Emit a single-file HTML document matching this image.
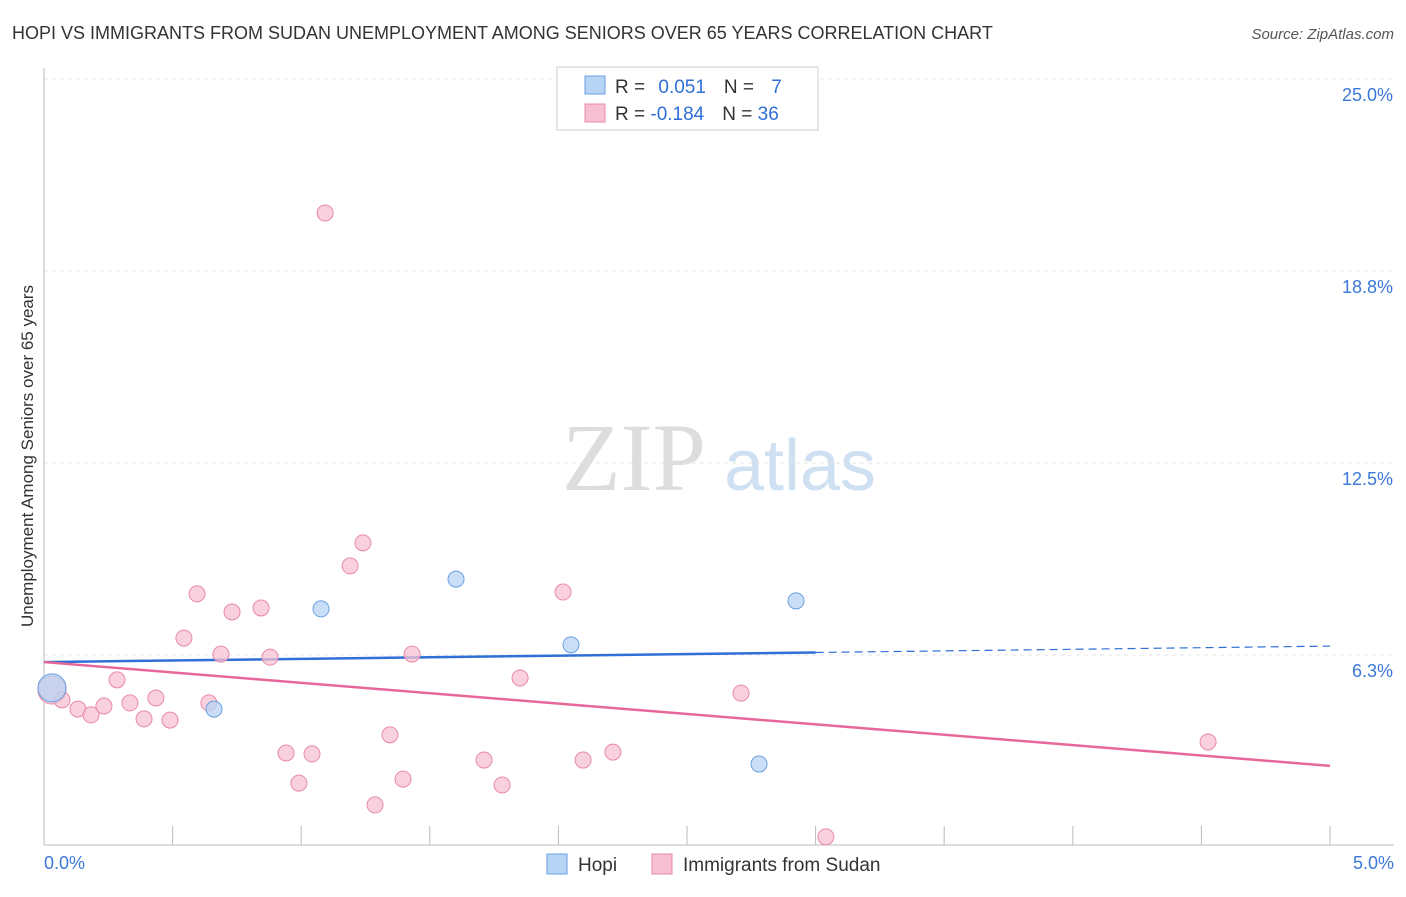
<!DOCTYPE html>
<html><head><meta charset="utf-8"><style>
body{margin:0;background:#fff;font-family:"Liberation Sans",sans-serif;}
</style></head><body>
<svg id="chart" width="1406" height="892" xmlns="http://www.w3.org/2000/svg" style="font-family:'Liberation Sans',sans-serif">
<text x="12" y="39" font-size="18" fill="#333">HOPI VS IMMIGRANTS FROM SUDAN UNEMPLOYMENT AMONG SENIORS OVER 65 YEARS CORRELATION CHART</text>
<text x="1394" y="39" font-size="15" fill="#555" text-anchor="end" font-style="italic">Source: ZipAtlas.com</text>
<text transform="translate(33,456) rotate(-90)" font-size="17" fill="#333" text-anchor="middle">Unemployment Among Seniors over 65 years</text>
<g>
<text x="634" y="490" font-size="96" fill="#ddd" text-anchor="middle" font-family="Liberation Serif,serif">ZIP</text>
<text x="800" y="490" font-size="72" fill="#cfe0f3" text-anchor="middle">atlas</text>
</g>
<g id="grid"></g><g id="axes"></g><g id="lines"></g><g id="points"></g>
<g>
<rect x="557" y="67" width="261" height="63" fill="#fff" stroke="#ccc"/>
<rect x="585" y="76" width="20" height="18" fill="#b8d4f4" stroke="#6a9fe0"/>
<rect x="585" y="104" width="20" height="18" fill="#f7c0d2" stroke="#e88aaa"/>
<text x="615" y="93" font-size="19" fill="#333">R = <tspan fill="#2f6fd6" dx="8">0.051</tspan><tspan dx="18" fill="#333">N = </tspan><tspan dx="12" fill="#2f6fd6">7</tspan></text>
<text x="615" y="120" font-size="19" fill="#333">R = <tspan fill="#2f6fd6">-0.184</tspan><tspan dx="18" fill="#333">N = </tspan><tspan fill="#2f6fd6">36</tspan></text>
</g>
<g>
<rect x="547" y="854" width="20" height="20" fill="#b8d4f4" stroke="#6a9fe0"/>
<text x="578" y="871" font-size="19" fill="#333">Hopi</text>
<rect x="652" y="854" width="20" height="20" fill="#f7c0d2" stroke="#e88aaa"/>
<text x="683" y="871" font-size="19" fill="#333">Immigrants from Sudan</text>
</g>
</svg>
<script>
const yTicks=[6.25,12.5,18.75,25];
const yTickLabels=["6.3%","12.5%","18.8%","25.0%"];
const hopiX=[0.031,0.661,1.077,1.602,2.049,2.780,2.924];
const hopiY=[5.18,4.49,7.75,8.72,6.58,2.70,8.01];
const sudanX=[0.031,0.070,0.132,0.183,0.233,0.284,0.334,0.389,0.435,0.490,0.544,0.595,0.641,0.688,0.731,0.844,0.879,0.941,0.991,1.042,1.093,1.190,1.240,1.287,1.345,1.396,1.431,1.711,1.781,1.851,2.018,2.096,2.212,2.710,3.040,4.526];
const sudanY=[5.11,4.79,4.49,4.30,4.59,5.44,4.69,4.17,4.85,4.13,6.80,8.24,4.69,6.28,7.65,7.78,6.18,3.06,2.08,3.03,20.64,9.15,9.90,1.37,3.65,2.21,6.28,2.83,2.02,5.50,8.30,2.83,3.09,5.01,0.33,3.42];
const hopiTrend=[6.02,6.54];
const sudanTrend=[6.02,2.64];
const ns="http://www.w3.org/2000/svg";
const X=v=>44+v/5*1286, Y=v=>847-v/6.25*192;
function mk(t,a,p){const e=document.createElementNS(ns,t);for(const k in a)e.setAttribute(k,a[k]);document.getElementById(p).appendChild(e);return e;}
yTicks.forEach((t,i)=>{
 const l=mk('line',{x1:44,x2:1394,y1:Y(t),y2:Y(t),stroke:'#e4e4e4','stroke-dasharray':'4,4'},'grid');
 
 
 const tx=mk('text',{x:1393,y:Y(t)+22,'font-size':18,fill:'#3b78d8','text-anchor':'end'},'axes');
 tx.textContent=yTickLabels[i];
 
 
});
const ax=mk('line',{x1:44,x2:1394,y1:845,y2:845,stroke:'#bbb'},'axes');


const ay=mk('line',{x1:44,x2:44,y1:68,y2:845,stroke:'#bbb'},'axes');


for(let i=1;i<=10;i++){const t=mk('line',{x1:X(i*0.5),x2:X(i*0.5),y1:826,y2:845,stroke:'#bbb'},'axes');
 
 }
[["0.0%",44,'start'],["5.0%",1394,'end']].forEach(a=>{const t=mk('text',{x:a[1],y:869,'font-size':18,fill:'#3b78d8','text-anchor':a[2]},'axes');t.textContent=a[0];
 
 });
sudanX.forEach((x,i)=>{const c=mk('circle',{cx:X(x),cy:Y(sudanY[i]),r:i==0?14:8,fill:'#f7c0d2','fill-opacity':0.75,stroke:'#e88aaa'},'points');
 
 });
hopiX.forEach((x,i)=>{const c=mk('circle',{cx:X(x),cy:Y(hopiY[i]),r:i==0?14:8,fill:'#b8d4f4','fill-opacity':0.75,stroke:'#6a9fe0'},'points');
 
 });
const hy=x=>hopiTrend[0]+(hopiTrend[1]-hopiTrend[0])*x/5;
const l1=mk('line',{x1:X(0),y1:Y(hopiTrend[0]),x2:X(3),y2:Y(hy(3)),stroke:'#2f6fd6','stroke-width':2.5},'lines');


const l2=mk('line',{x1:X(3),y1:Y(hy(3)),x2:X(5),y2:Y(hopiTrend[1]),stroke:'#2f6fd6','stroke-width':1.2,'stroke-dasharray':'8,5'},'lines');


const l3=mk('line',{x1:X(0),y1:Y(sudanTrend[0]),x2:X(5),y2:Y(sudanTrend[1]),stroke:'#e8679a','stroke-width':2.5},'lines');


</script>
</body></html>
